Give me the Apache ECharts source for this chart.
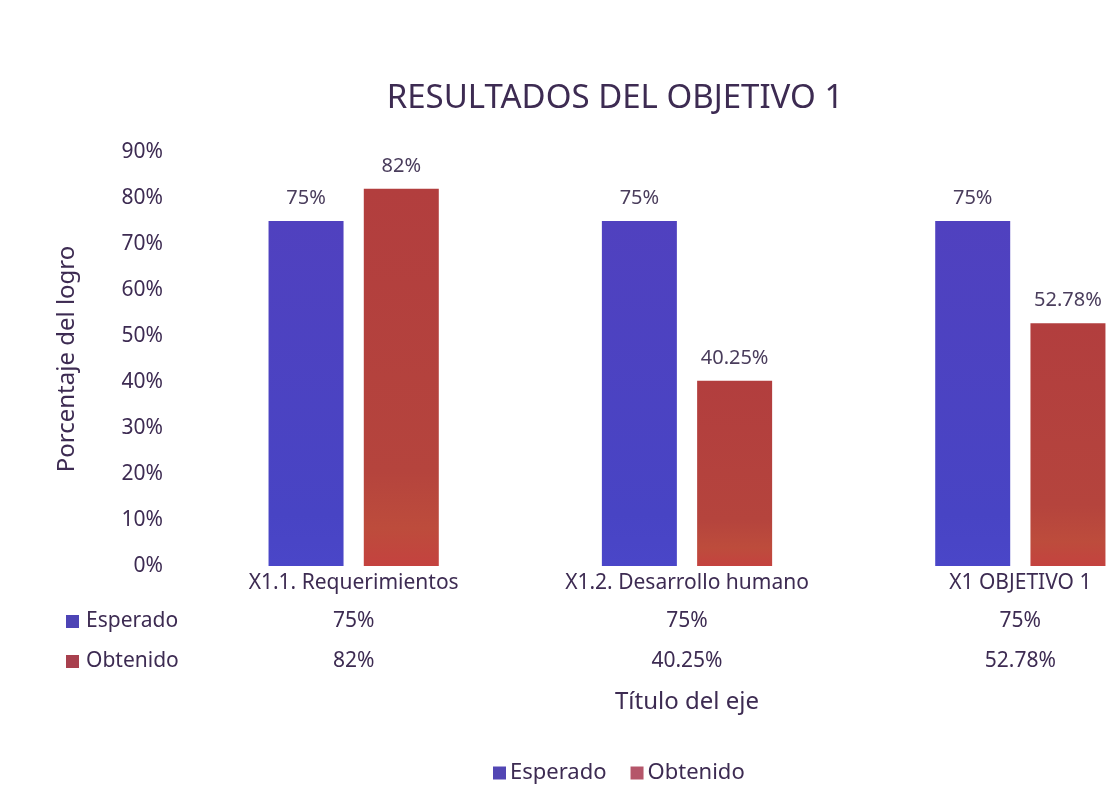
<!DOCTYPE html>
<html>
<head>
<meta charset="utf-8">
<script src="https://cdn.jsdelivr.net/npm/echarts@6/dist/echarts.min.js"></script>
<style>
  html, body { margin: 0; padding: 0; background: #ffffff; }
  #chart { width: 1120px; height: 811px; }
</style>
</head>
<body>
<div id="chart"></div>
<script>
// Categories and values (percent)
const categories = ['X1.1. Requerimientos', 'X1.2. Desarrollo humano', 'X1 OBJETIVO 1'];
const esperado = [75, 75, 75];
const obtenido = [82, 40.25, 52.78];
const yTicks = [0, 10, 20, 30, 40, 50, 60, 70, 80, 90];

const TEXT = '#3d2b52';
const FONT = '"Noto Sans", "Open Sans", sans-serif';

// slightly shaded fills, top to bottom
const BLUE = new echarts.graphic.LinearGradient(0, 0, 0, 1, [
  { offset: 0, color: '#5041bf' },
  { offset: 0.85, color: '#4844c4' },
  { offset: 1, color: '#4a46c8' }
]);
const RED = new echarts.graphic.LinearGradient(0, 0, 0, 1, [
  { offset: 0, color: '#b23e3e' },
  { offset: 0.75, color: '#b5443d' },
  { offset: 0.9, color: '#bd4c3c' },
  { offset: 1, color: '#c4423f' }
]);

function pct(v) { return v + '%'; }

const chart = echarts.init(document.getElementById('chart'), null, { renderer: 'canvas' });

// extra category axes below the plot act as the data table rows
const tableAxis = (values, offset) => ({
  type: 'category',
  data: categories,
  position: 'bottom',
  offset: offset,
  axisLine: { show: false },
  axisTick: { show: false },
  axisLabel: {
    color: TEXT, fontFamily: FONT, fontSize: 21, margin: 7, interval: 0,
    formatter: (v, i) => pct(values[i])
  },
  splitLine: { show: false }
});

chart.setOption({
  backgroundColor: '#ffffff',
  animation: false,
  title: {
    text: 'RESULTADOS DEL OBJETIVO 1',
    left: 610, top: 77, textAlign: 'center',
    textStyle: { color: TEXT, fontFamily: FONT, fontSize: 33, fontWeight: 'normal' }
  },
  // the plot runs past the right edge of the canvas
  grid: { left: 187, width: 1000, top: 152, height: 414, containLabel: false, outerBoundsMode: 'none' },
  xAxis: [
    {
      type: 'category',
      data: categories,
      axisLine: { show: false },
      axisTick: { show: false },
      axisLabel: { color: TEXT, fontFamily: FONT, fontSize: 21, margin: 7, interval: 0 },
      name: 'Título del eje',
      nameLocation: 'middle',
      nameGap: 124,
      nameTextStyle: { color: TEXT, fontFamily: FONT, fontSize: 24 }
    },
    tableAxis(esperado, 38),
    tableAxis(obtenido, 78)
  ],
  yAxis: {
    type: 'value',
    min: 0, max: 90, interval: 10,
    axisLine: { show: false },
    axisTick: { show: false },
    splitLine: { show: false },
    axisLabel: {
      color: TEXT, fontFamily: FONT, fontSize: 21, margin: 24,
      formatter: v => yTicks.includes(v) ? pct(v) : ''
    },
    name: 'Porcentaje del logro',
    nameLocation: 'middle',
    nameGap: 108,
    nameTextStyle: { color: TEXT, fontFamily: FONT, fontSize: 24 }
  },
  legend: {
    data: [
      { name: 'Esperado', itemStyle: { color: '#5246b4' } },
      { name: 'Obtenido', itemStyle: { color: '#b5566a' } }
    ],
    bottom: 22, left: 488,
    itemWidth: 13, itemHeight: 13, itemGap: 24,
    icon: 'rect',
    textStyle: { color: TEXT, fontFamily: FONT, fontSize: 22, padding: [0, 0, 0, -1] }
  },
  graphic: [
    { type: 'rect', left: 66, top: 615, shape: { width: 13, height: 13 }, style: { fill: '#4d44b5' } },
    { type: 'text', x: 86, y: 621, style: { text: 'Esperado', fill: TEXT, font: '21px ' + FONT, textVerticalAlign: 'middle' } },
    { type: 'rect', left: 66, top: 655, shape: { width: 13, height: 13 }, style: { fill: '#a8404e' } },
    { type: 'text', x: 86, y: 661, style: { text: 'Obtenido', fill: TEXT, font: '21px ' + FONT, textVerticalAlign: 'middle' } }
  ],
  series: [
    {
      name: 'Esperado', type: 'bar', data: esperado,
      barWidth: 75, barGap: '27%',
      itemStyle: { color: BLUE },
      label: { show: true, position: 'top', distance: 13, color: '#4a3d5c', fontFamily: FONT, fontSize: 20, formatter: p => pct(p.value) }
    },
    {
      name: 'Obtenido', type: 'bar', data: obtenido,
      barWidth: 75,
      itemStyle: { color: RED },
      label: { show: true, position: 'top', distance: 13, color: '#4a3d5c', fontFamily: FONT, fontSize: 20, formatter: p => pct(p.value) }
    }
  ]
});
</script>
</body>
</html>
